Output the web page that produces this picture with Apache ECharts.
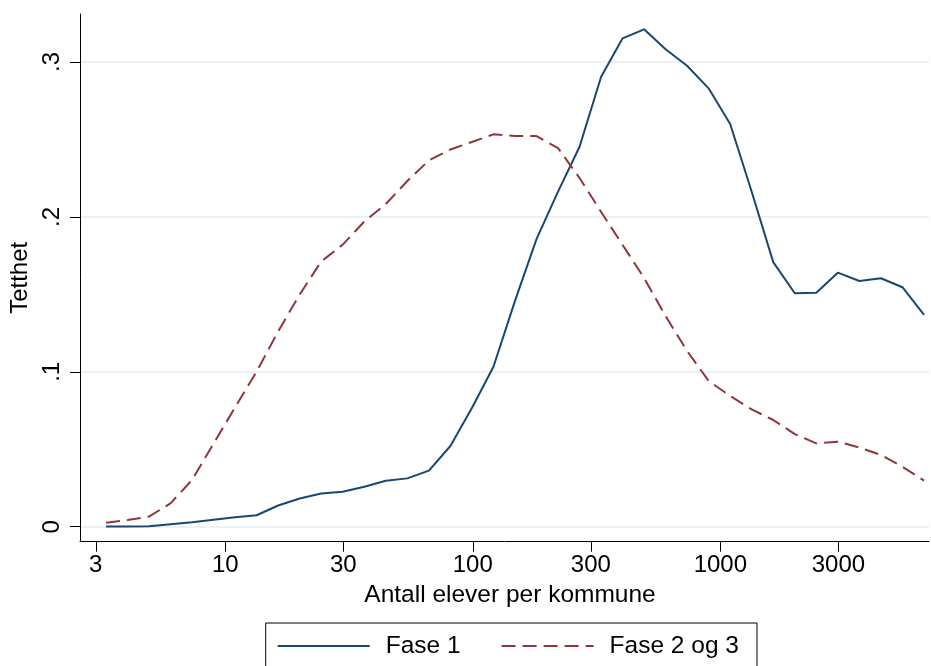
<!DOCTYPE html>
<html>
<head>
<meta charset="utf-8">
<script src="https://cdn.jsdelivr.net/npm/echarts@6/dist/echarts.min.js"></script>
<style>
html,body{margin:0;padding:0;background:#fff;}
#chart{width:931px;height:666px;}
</style>
</head>
<body>
<div id="chart"></div>
<script>
// Antall elever per kommune (kdensity grid)
var xValues = [3.30, 4.03, 4.92, 6.01, 7.34, 8.97, 10.96, 13.39, 16.36, 19.99, 24.42, 29.83, 36.45, 44.53, 54.4, 66.5, 81.2, 99.2, 121.2, 148.1, 180.9, 221.0, 270, 330, 403, 492, 601, 734, 897, 1096, 1339, 1636, 1999, 2442, 2983, 3645, 4453, 5441, 6653];
var fase1 = [0.0002,0.0002,0.0003,0.0016,0.0029,0.0045,0.0061,0.0074,0.0137,0.0182,0.0214,0.0226,0.0258,0.0297,0.0312,0.0362,0.0521,0.0766,0.1033,0.1458,0.1857,0.2163,0.2453,0.2905,0.3153,0.3211,0.3082,0.2976,0.2830,0.2600,0.2162,0.1708,0.1507,0.1510,0.1640,0.1586,0.1604,0.1546,0.1367];
var fase23 = [0.0025,0.0043,0.0065,0.0151,0.0301,0.0537,0.0770,0.1001,0.1261,0.1499,0.1712,0.1821,0.1970,0.2083,0.2232,0.2365,0.2435,0.2484,0.2533,0.2522,0.2522,0.2444,0.2251,0.2032,0.1819,0.1606,0.1360,0.1135,0.0941,0.0844,0.0757,0.0689,0.0598,0.0538,0.0549,0.0511,0.0463,0.0387,0.0298];
var xTicks = [3, 10, 30, 100, 300, 1000, 3000];
var yTicks = [0, 0.1, 0.2, 0.3];
var seriesNames = ['Fase 1', 'Fase 2 og 3'];
var xTitle = 'Antall elever per kommune';
var yTitle = 'Tetthet';

var FONT = "'Liberation Sans', Arial, sans-serif";
function toPairs(ys) {
  return xValues.map(function (x, i) { return [Math.log10(x), ys[i]]; });
}
var xTickPos = xTicks.map(function (t) { return Math.log10(t); });

var chart = echarts.init(document.getElementById('chart'), null, {renderer: 'canvas'});
chart.setOption({
  animation: false,
  backgroundColor: '#ffffff',
  textStyle: {fontFamily: FONT},
  grid: {left: 80, right: 2, top: 14, bottom: 124.3, containLabel: false},
  xAxis: {
    type: 'value',
    min: Math.log10(2.59),
    max: 3.843,
    name: xTitle,
    nameLocation: 'middle',
    nameGap: 39,
    nameTextStyle: {fontSize: 24.5, color: '#000', fontFamily: FONT, padding: [0, 0, 0, 11]},
    axisLine: {show: true, onZero: false, lineStyle: {color: '#000', width: 1}},
    axisTick: {show: true, length: 10, customValues: xTickPos, lineStyle: {color: '#000', width: 1}},
    axisLabel: {
      customValues: xTickPos,
      fontSize: 24, color: '#000', fontFamily: FONT, margin: 12,
      formatter: function (v) { return String(Math.round(Math.pow(10, v))); }
    },
    splitLine: {show: false}
  },
  yAxis: {
    type: 'value',
    min: -0.00968,
    max: 0.331,
    name: yTitle,
    nameLocation: 'middle',
    nameGap: 44,
    nameRotate: 90,
    nameTextStyle: {fontSize: 24, color: '#000', fontFamily: FONT},
    axisLine: {show: true, onZero: false, lineStyle: {color: '#000', width: 1}},
    axisTick: {show: true, length: 10, customValues: yTicks, lineStyle: {color: '#000', width: 1}},
    axisLabel: {
      customValues: yTicks,
      rotate: 90,
      fontSize: 24, color: '#000', fontFamily: FONT, margin: 16,
      formatter: function (v) { return v === 0 ? '0' : String(Math.round(v * 10) / 10).replace(/^0/, ''); }
    },
    splitLine: {show: true, lineStyle: {color: '#e4eef2', width: 1.5}}
  },
  legend: {
    show: true,
    left: 265.7,
    top: 623,
    orient: 'horizontal',
    padding: [10, 18, 20, 11],
    itemGap: 40,
    itemWidth: 92,
    itemHeight: 14,
    borderColor: '#000',
    borderWidth: 1,
    data: seriesNames,
    itemStyle: {opacity: 0},
    textStyle: {fontSize: 24.5, color: '#000', fontFamily: FONT, lineHeight: 26, padding: [0, 0, 0, 11]}
  },
  series: [
    {
      name: seriesNames[0],
      type: 'line',
      data: toPairs(fase1),
      symbol: 'none',
      showSymbol: false,
      smooth: false,
      lineStyle: {color: '#1a476f', width: 2, type: 'solid'},
      itemStyle: {color: '#1a476f'}
    },
    {
      name: seriesNames[1],
      type: 'line',
      data: toPairs(fase23),
      symbol: 'none',
      showSymbol: false,
      smooth: false,
      lineStyle: {color: '#90353b', width: 2, type: [14, 7]},
      itemStyle: {color: '#90353b'}
    }
  ]
});
</script>
</body>
</html>
